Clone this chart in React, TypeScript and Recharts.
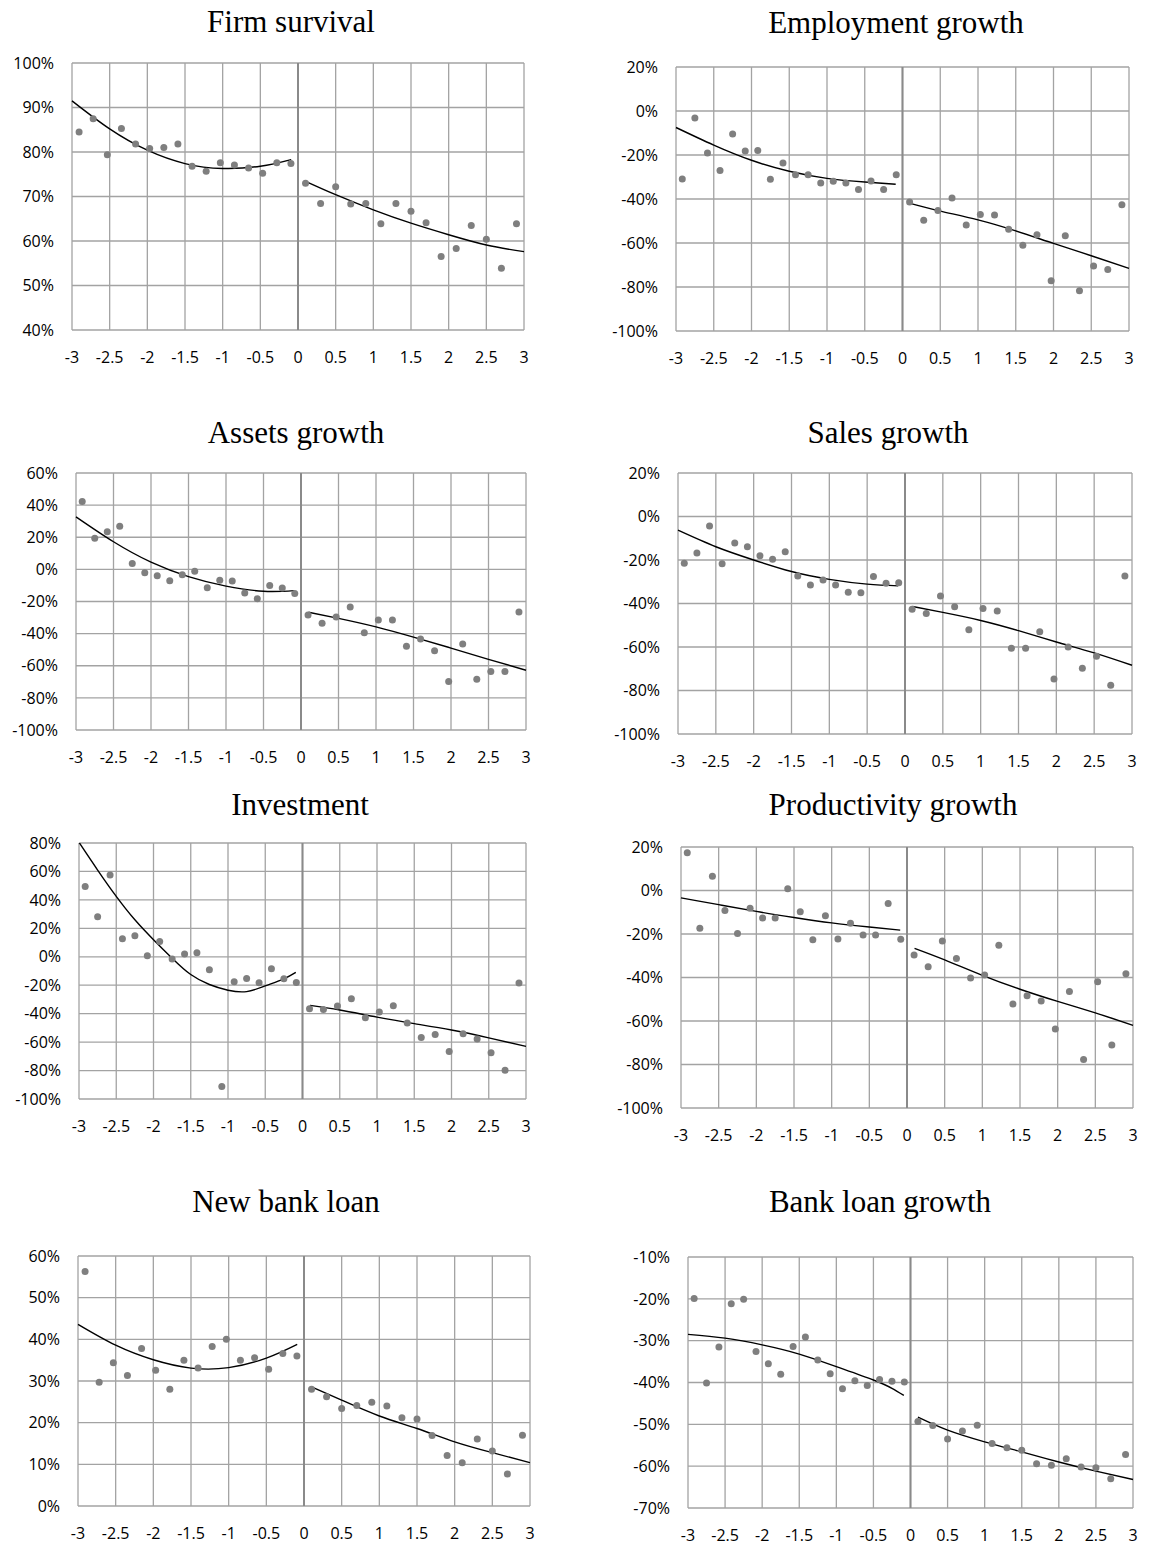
import { ComposedChart, Scatter, Line, XAxis, YAxis, CartesianGrid, ReferenceLine } from "recharts";

// bin centres of the running variable (left / right of the cutoff)
const BINS_L16 = [-2.906, -2.719, -2.531, -2.344, -2.156, -1.969, -1.781, -1.594, -1.406, -1.219, -1.031, -0.844, -0.656, -0.469, -0.281, -0.094];
const BINS_L18 = [-2.917, -2.75, -2.583, -2.417, -2.25, -2.083, -1.917, -1.75, -1.583, -1.417, -1.25, -1.083, -0.917, -0.75, -0.583, -0.417, -0.25, -0.083];
const BINS_R15 = [0.1, 0.3, 0.5, 0.7, 0.9, 1.1, 1.3, 1.5, 1.7, 1.9, 2.1, 2.3, 2.5, 2.7, 2.9];
const BINS_R16 = [0.094, 0.281, 0.469, 0.656, 0.844, 1.031, 1.219, 1.406, 1.594, 1.781, 1.969, 2.156, 2.344, 2.531, 2.719, 2.906];

const X_TICKS = [-3, -2.5, -2, -1.5, -1, -0.5, 0, 0.5, 1, 1.5, 2, 2.5, 3];

const FIT_XL = [-3, -2.5, -2, -1.5, -1, -0.5, -0.09];
const FIT_XR = [0.1, 0.5, 1, 1.5, 2, 2.5, 3];

// Firm survival (%)
const SURV_L = [84.5, 87.5, 79.4, 85.3, 81.8, 80.8, 81.0, 81.8, 76.8, 75.7, 77.6, 77.1, 76.4, 75.2, 77.6, 77.4];
const SURV_R = [73.0, 68.4, 72.2, 68.3, 68.4, 63.9, 68.4, 66.7, 64.1, 56.5, 58.3, 63.5, 60.4, 53.9, 63.9];
const SURV_FIT_L = [91.5, 85.2, 80.4, 77.4, 76.3, 76.8, 78.3];
const SURV_FIT_R = [73.4, 70.4, 67.0, 64.0, 61.4, 59.1, 57.6];

// Employment growth (%)
const EMP_L = [-30.9, -3.2, -19.1, -27.1, -10.5, -18.2, -17.9, -31.0, -23.6, -29.0, -29.0, -32.7, -31.9, -32.7, -35.7, -31.8, -35.7, -29.0];
const EMP_R = [-41.4, -49.7, -45.2, -39.6, -51.8, -47.0, -47.3, -53.7, -61.0, -56.2, -77.2, -56.7, -81.7, -70.4, -72.1, -42.6];
const EMP_FIT_L = [-7.5, -15.5, -22.4, -27.4, -30.6, -32.3, -33.3];
const EMP_FIT_R = [-42.0, -45.5, -49.5, -54.5, -60.2, -65.8, -71.5];

// Assets growth (%)
const ASSET_L = [42.2, 19.4, 23.4, 26.9, 3.7, -2.1, -4.0, -7.1, -3.4, -1.1, -11.4, -6.7, -7.3, -14.7, -18.3, -10.0, -11.6, -15.0];
const ASSET_R = [-28.4, -33.6, -29.6, -23.4, -39.4, -31.5, -31.5, -47.9, -43.3, -50.6, -69.8, -46.4, -68.4, -63.6, -63.6, -26.5];
const ASSET_FIT_L = [32.7, 17.2, 4.5, -4.5, -10.4, -13.6, -13.2];
const ASSET_FIT_R = [-26.7, -30.5, -35.8, -42.2, -49.0, -56.0, -62.8];

// Sales growth (%)
const SALES_L = [-21.5, -16.8, -4.4, -21.7, -12.2, -13.9, -18.0, -19.7, -16.2, -27.3, -31.5, -29.2, -31.5, -34.8, -35.1, -27.6, -30.7, -30.5];
const SALES_R = [-42.6, -44.6, -36.6, -41.5, -52.1, -42.3, -43.5, -60.6, -60.6, -53.0, -74.7, -60.0, -69.8, -64.3, -77.6, -27.3];
const SALES_FIT_L = [-6.3, -13.9, -20.0, -25.3, -28.9, -31.1, -31.9];
const SALES_FIT_R = [-41.4, -44.1, -47.8, -52.5, -57.7, -62.7, -68.4];

// Investment (%)
const INV_L = [49.5, 28.2, 57.5, 12.7, 14.8, 0.8, 10.8, -1.6, 1.9, 2.9, -9.1, -91.2, -17.5, -15.2, -18.2, -8.4, -15.4, -18.0];
const INV_R = [-36.5, -37.0, -34.6, -29.5, -42.9, -38.9, -34.4, -46.6, -56.7, -54.6, -66.6, -54.1, -57.9, -67.5, -79.7, -18.5];
const INV_FIT_XL = [-3, -2.75, -2.5, -2.25, -2, -1.75, -1.5, -1.25, -1, -0.75, -0.5, -0.25, -0.09];
const INV_FIT_L = [80.5, 61, 42.5, 26, 12, -1, -12.5, -19.5, -23.5, -24.5, -20.5, -15.5, -11];
const INV_FIT_R = [-34.2, -37.4, -42.4, -47.0, -51.5, -57.0, -63.0];

// Productivity growth (%)
const PROD_L = [17.3, -17.4, 6.6, -9.2, -19.8, -8.2, -12.7, -12.7, 0.8, -9.8, -22.6, -11.6, -22.3, -15.1, -20.5, -20.5, -6.0, -22.4];
const PROD_R = [-29.6, -35.0, -23.2, -31.3, -40.2, -38.8, -25.2, -52.2, -48.4, -50.8, -63.7, -46.4, -77.7, -42.0, -71.0, -38.3];
const PROD_FIT_L = [-3.4, -6.5, -9.6, -12.4, -14.9, -16.8, -18.2];
const PROD_FIT_R = [-26.6, -31.9, -39.0, -45.4, -51.0, -56.3, -62.0];

// New bank loan (%)
const NEWLOAN_L = [56.3, 29.7, 34.4, 31.3, 37.8, 32.6, 28.0, 35.0, 33.1, 38.3, 40.0, 35.0, 35.6, 32.8, 36.6, 36.0];
const NEWLOAN_R = [28.0, 26.2, 23.4, 24.1, 24.9, 24.0, 21.2, 20.9, 16.9, 12.1, 10.4, 16.1, 13.2, 7.7, 17.0];
const NEWLOAN_FIT_L = [43.6, 38.6, 35.1, 33.1, 33.2, 35.5, 38.8];
const NEWLOAN_FIT_R = [28.6, 25.4, 21.6, 18.6, 15.4, 12.8, 10.4];

// Bank loan growth (%)
const LOANGR_L = [-19.9, -40.1, -31.5, -21.2, -20.1, -32.6, -35.5, -38.0, -31.4, -29.1, -34.6, -37.9, -41.5, -39.6, -40.7, -39.3, -39.7, -39.9];
const LOANGR_R = [-49.3, -50.3, -53.5, -51.6, -50.2, -54.6, -55.6, -56.2, -59.4, -59.8, -58.2, -60.2, -60.4, -63.0, -57.2];
const LOANGR_FIT_XL = [-3, -2.5, -2, -1.5, -1, -0.5, -0.25, -0.09];
const LOANGR_FIT_L = [-28.5, -29.4, -31.0, -33.2, -36.2, -39.4, -41.4, -43.1];
const LOANGR_FIT_R = [-48.3, -51.4, -54.2, -56.6, -59.0, -61.2, -63.2];

const TICKS_PCT_A = [-100, -80, -60, -40, -20, 0, 20];

const pts = (xs: number[], ys: number[]) => xs.map((x, i) => ({ x, y: ys[i] }));

const AXIS_W = 70;
const PAD_T = 16;
const PAD_R = 10;
const AXIS_H = 44;

const panels = [
  { title: "Firm survival", tx: 291, ty: 22, box: [72, 63, 524, 330], domain: [40, 100], ticks: [40, 50, 60, 70, 80, 90, 100],
    left: pts(BINS_L16, SURV_L), right: pts(BINS_R15, SURV_R), fitL: pts(FIT_XL, SURV_FIT_L), fitR: pts(FIT_XR, SURV_FIT_R) },
  { title: "Employment growth", tx: 896, ty: 23, box: [676, 67, 1129, 331], domain: [-100, 20], ticks: TICKS_PCT_A,
    left: pts(BINS_L18, EMP_L), right: pts(BINS_R16, EMP_R), fitL: pts(FIT_XL, EMP_FIT_L), fitR: pts(FIT_XR, EMP_FIT_R) },
  { title: "Assets growth", tx: 296, ty: 433, box: [76, 473, 526, 730], domain: [-100, 60], ticks: [-100, -80, -60, -40, -20, 0, 20, 40, 60],
    left: pts(BINS_L18, ASSET_L), right: pts(BINS_R16, ASSET_R), fitL: pts(FIT_XL, ASSET_FIT_L), fitR: pts(FIT_XR, ASSET_FIT_R) },
  { title: "Sales growth", tx: 888, ty: 433, box: [678, 473, 1132, 734], domain: [-100, 20], ticks: TICKS_PCT_A,
    left: pts(BINS_L18, SALES_L), right: pts(BINS_R16, SALES_R), fitL: pts(FIT_XL, SALES_FIT_L), fitR: pts(FIT_XR, SALES_FIT_R) },
  { title: "Investment", tx: 300, ty: 805, box: [79, 843, 526, 1099], domain: [-100, 80], ticks: [-100, -80, -60, -40, -20, 0, 20, 40, 60, 80],
    left: pts(BINS_L18, INV_L), right: pts(BINS_R16, INV_R), fitL: pts(INV_FIT_XL, INV_FIT_L), fitR: pts(FIT_XR, INV_FIT_R) },
  { title: "Productivity growth", tx: 893, ty: 805, box: [681, 847, 1133, 1108], domain: [-100, 20], ticks: TICKS_PCT_A,
    left: pts(BINS_L18, PROD_L), right: pts(BINS_R16, PROD_R), fitL: pts(FIT_XL, PROD_FIT_L), fitR: pts(FIT_XR, PROD_FIT_R) },
  { title: "New bank loan", tx: 286, ty: 1202, box: [78, 1256, 530, 1506], domain: [0, 60], ticks: [0, 10, 20, 30, 40, 50, 60],
    left: pts(BINS_L16, NEWLOAN_L), right: pts(BINS_R15, NEWLOAN_R), fitL: pts(FIT_XL, NEWLOAN_FIT_L), fitR: pts(FIT_XR, NEWLOAN_FIT_R) },
  { title: "Bank loan growth", tx: 880, ty: 1202, box: [688, 1257, 1133, 1508], domain: [-70, -10], ticks: [-70, -60, -50, -40, -30, -20, -10],
    left: pts(BINS_L18, LOANGR_L), right: pts(BINS_R15, LOANGR_R), fitL: pts(LOANGR_FIT_XL, LOANGR_FIT_L), fitR: pts(FIT_XR, LOANGR_FIT_R) },
];

const Dot = (p: any) => <circle cx={p.cx} cy={p.cy} r={3.5} fill="#7f7f7f" />;

const tickStyle = { fontSize: 16, fill: "#000", fontFamily: "'Open Sans', sans-serif" };

function Panel({ p }: { p: any }) {
  const [l, t, r, b] = p.box;
  const w = r - l + AXIS_W + PAD_R;
  const h = b - t + PAD_T + AXIS_H;
  return (
    <>
      <div
        style={{
          position: "absolute", left: p.tx - 300, top: p.ty - 20, width: 600, height: 40, lineHeight: "40px",
          textAlign: "center", fontFamily: "'Liberation Serif', 'Times New Roman', serif", fontSize: 31, color: "#000",
        }}
      >
        {p.title}
      </div>
      <div style={{ position: "absolute", left: l - AXIS_W, top: t - PAD_T }}>
        <ComposedChart width={w} height={h} margin={{ top: PAD_T, right: PAD_R, bottom: 0, left: 0 }}>
          <CartesianGrid stroke="#a3a3a3" strokeWidth={1.3} />
          <XAxis
            dataKey="x" type="number" domain={[-3, 3]} ticks={X_TICKS} interval={0}
            axisLine={false} tickLine={false} tick={tickStyle} tickMargin={16} height={AXIS_H}
          />
          <YAxis
            dataKey="y" type="number" domain={p.domain} ticks={p.ticks} interval={0} allowDataOverflow
            axisLine={false} tickLine={false} tick={tickStyle} tickMargin={12} width={AXIS_W}
            tickFormatter={(v: number) => `${v}%`}
          />
          <ReferenceLine x={0} stroke="#8a8a8a" strokeWidth={2} />
          <Scatter data={p.left} shape={Dot} isAnimationActive={false} />
          <Scatter data={p.right} shape={Dot} isAnimationActive={false} />
          <Line data={p.fitL} dataKey="y" type="natural" stroke="#000" strokeWidth={1.4} dot={false} isAnimationActive={false} />
          <Line data={p.fitR} dataKey="y" type="natural" stroke="#000" strokeWidth={1.4} dot={false} isAnimationActive={false} />
        </ComposedChart>
      </div>
    </>
  );
}

export default function App() {
  return (
    <div style={{ position: "absolute", left: 0, top: 0, width: 1149, height: 1545, background: "#fff" }}>
      {panels.map((p) => (
        <Panel key={p.title} p={p} />
      ))}
    </div>
  );
}
